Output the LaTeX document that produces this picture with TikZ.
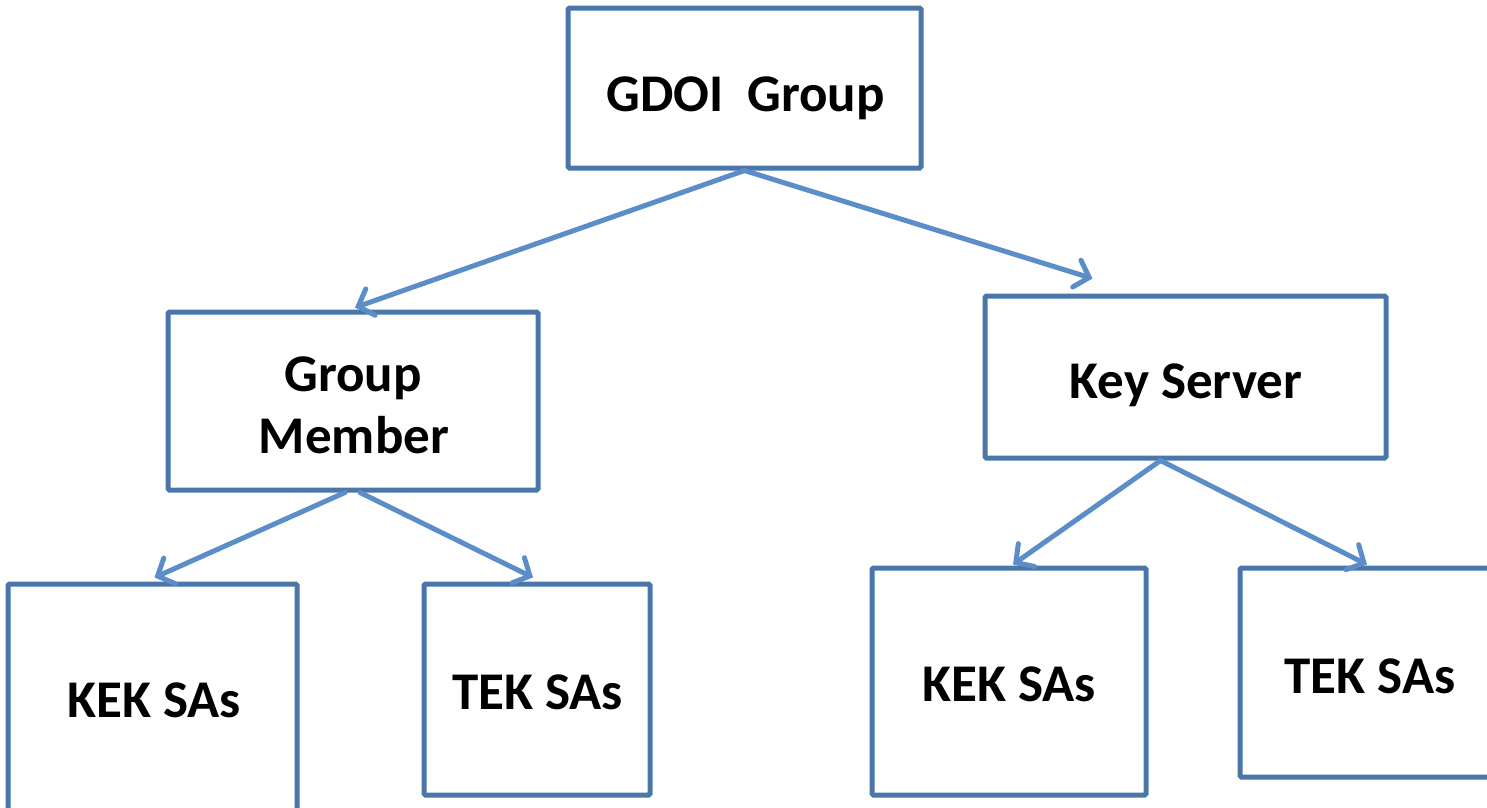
\documentclass[tikz,border=0pt]{standalone}
\usepackage{fontspec}
\setmainfont{Carlito}
\usetikzlibrary{arrows.meta,calc}
\definecolor{boxblue}{RGB}{74,118,168}
\definecolor{arrowblue}{RGB}{91,142,201}
\tikzset{
  box/.style={draw=boxblue, line width=5pt, rounded corners=1.5pt, fill=white, inner sep=0pt},
  lbl/.style={anchor=base, inner sep=0pt, font=\fontsize{53}{63}\selectfont\bfseries},
  conn/.style={draw=arrowblue, line width=5pt, line cap=round,
    -{Straight Barb[length=13pt,width=28pt,line cap=round]}}
}
\begin{document}
\begin{tikzpicture}[x=1pt,y=-1pt]
\useasboundingbox (0,0) rectangle (1487,807);
\node[box, minimum width=353pt, minimum height=160pt] (gdoi) at (744.5,88) {};
\node[box, minimum width=370pt, minimum height=178pt] (gm) at (353,401) {};
\node[box, minimum width=401pt, minimum height=162pt] (ks) at (1185.5,377) {};
\node[box, minimum width=289pt, minimum height=232pt] (kekl) at (152.5,700) {};
\node[box, minimum width=226pt, minimum height=211pt] (tekl) at (537,689.5) {};
\node[box, minimum width=274pt, minimum height=227pt] (kekr) at (1009,681.5) {};
\node[box, minimum width=260pt, minimum height=209pt] (tekr) at (1370,672.5) {};
\node[lbl] (gdoit) at (745.5,111) {GDOI~~Group};
\node[lbl] (gmt1) at (353,391) {Group};
\node[lbl] (gmt2) at (354,453) {Member};
\node[lbl] (kst) at (1186,398) {Key Server};
\node[lbl] (keklt) at (154,717) {KEK SAs};
\node[lbl] (teklt) at (537.5,709) {TEK SAs};
\node[lbl] (kekrt) at (1009,701) {KEK SAs};
\node[lbl] (tekrt) at (1370,693) {TEK SAs};
\coordinate (ksin) at ($(ks.north west)+(110,-15)$);
\draw[conn] (gdoi.south) -- ($(gm.north)+(2,-2)$);
\draw[conn] (gdoi.south) -- (ksin);
\draw[conn] ($(gm.south)+(-8,0)$) -- ($(kekl.north)+(2,-4)$);
\draw[conn] ($(gm.south)+(7,0)$) -- ($(tekl.north)+(-4,-4)$);
\draw[conn] ($(ks.south)+(-25,0)$) -- ($(kekr.north)+(4,-1)$);
\draw[conn] ($(ks.south)+(-25,0)$) -- ($(tekr.north)+(-3,-1)$);
\end{tikzpicture}
\end{document}
